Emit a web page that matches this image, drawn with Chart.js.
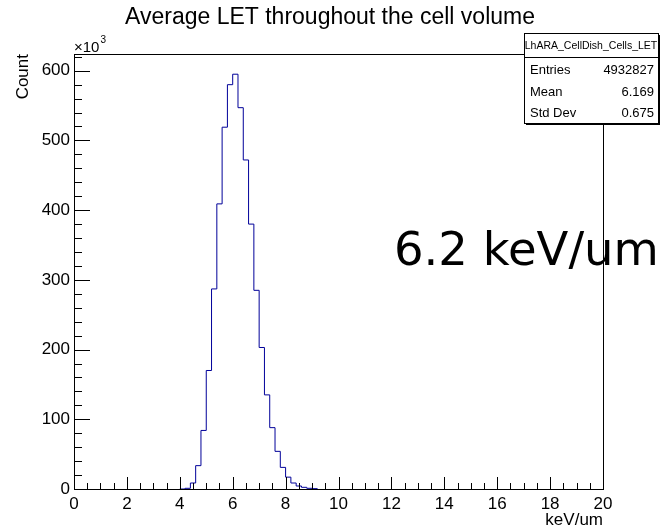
<!DOCTYPE html>
<html>
<head>
<meta charset="utf-8">
<script src="https://cdn.jsdelivr.net/npm/chart.js@4.4.0/dist/chart.umd.min.js"></script>
<style>
  body { margin: 0; background: #fff; }
  #wrap { width: 661px; height: 531px; }
</style>
</head>
<body>
<div id="wrap"><canvas id="letChart"></canvas></div>
<script>
// histogram bins (keV/um), width 0.2; last edge closes the last bin
var binEdges = [4.0, 4.2, 4.4, 4.6, 4.8, 5.0, 5.2, 5.4, 5.6, 5.8, 6.0, 6.2, 6.4,
  6.6, 6.8, 7.0, 7.2, 7.4, 7.6, 7.8, 8.0, 8.2, 8.4, 8.6, 8.8, 9.0, 9.2];
// counts per bin, in thousands (axis is x10^3)
var counts = [0, 1, 8.6, 33.5, 84, 170, 287, 409, 519, 580, 595, 547, 472,
  380, 285, 203, 135, 88, 54, 31, 17, 8.6, 4.3, 2.4, 1, 0.5];

var xTicks = [0, 2, 4, 6, 8, 10, 12, 14, 16, 18, 20];
var yTicks = [0, 100, 200, 300, 400, 500, 600];

var histName = "LhARA_CellDish_Cells_LET";
var statLabels = ["Entries", "Mean", "Std Dev"];
var statValues = ["4932827", "6.169", "0.675"];

var FONT = '"Liberation Sans", Arial, sans-serif';

var histPoints = [];
for (var i = 0; i < counts.length; i++) {
  histPoints.push({ x: binEdges[i], y: counts[i] });
}
histPoints.push({ x: binEdges[binEdges.length - 1], y: 0 });

var rootStyle = {
  id: "rootStyle",
  afterDraw: function (chart) {
    var ctx = chart.ctx;
    var a = chart.chartArea;
    var xs = chart.scales.x;
    var ys = chart.scales.y;
    ctx.save();
    ctx.strokeStyle = "#000";
    ctx.fillStyle = "#000";
    ctx.lineWidth = 1;

    // frame
    ctx.strokeRect(a.left + 0.5, a.top + 0.5, a.right - a.left, a.bottom - a.top);

    // inward ticks, x
    ctx.beginPath();
    for (var v = xs.min; v <= xs.max + 1e-9; v += 0.5) {
      var px = Math.round(xs.getPixelForValue(v)) + 0.5;
      var len = v % 2 === 0 ? 12 : 6;
      ctx.moveTo(px, a.bottom);
      ctx.lineTo(px, a.bottom - len);
    }
    // inward ticks, y
    for (var w = 0; w <= ys.max; w += 20) {
      var py = Math.round(ys.getPixelForValue(w)) + 0.5;
      var l2 = w % 100 === 0 ? 16 : 8;
      ctx.moveTo(a.left, py);
      ctx.lineTo(a.left + l2, py);
    }
    ctx.stroke();

    // title
    ctx.font = "23px " + FONT;
    ctx.textAlign = "center";
    ctx.fillText("Average LET throughout the cell volume", 330, 24);

    // exponent
    ctx.textAlign = "left";
    ctx.font = "15px " + FONT;
    ctx.fillText("\u00d710", a.left, 52);
    var ew = ctx.measureText("\u00d710").width;
    ctx.font = "10px " + FONT;
    ctx.fillText("3", a.left + ew + 1, 43);

    // axis titles
    ctx.font = "17px " + FONT;
    ctx.textAlign = "right";
    ctx.fillText("keV/um", a.right, 525);
    ctx.save();
    ctx.translate(28, a.top);
    ctx.rotate(-Math.PI / 2);
    ctx.fillText("Count", 0, 0);
    ctx.restore();

    // annotation
    ctx.textAlign = "left";
    ctx.font = '46.5px "DejaVu Sans", sans-serif';
    ctx.fillText("6.2 keV/um", 394, 265);

    // stats box
    var bx = 524, by = 33, bw = 134, bh = 90;
    ctx.fillRect(bx + 2, by + 2, bw, bh);
    ctx.fillStyle = "#fff";
    ctx.fillRect(bx, by, bw, bh);
    ctx.fillStyle = "#000";
    ctx.strokeRect(bx + 0.5, by + 0.5, bw, bh);
    ctx.beginPath();
    ctx.moveTo(bx, 57.5);
    ctx.lineTo(bx + bw, 57.5);
    ctx.stroke();
    ctx.font = "10.5px " + FONT;
    ctx.textAlign = "center";
    ctx.fillText(histName, bx + bw / 2, 49);
    ctx.font = "13px " + FONT;
    var rowY = [74, 96, 117];
    for (var k = 0; k < statLabels.length; k++) {
      ctx.textAlign = "left";
      ctx.fillText(statLabels[k], bx + 6, rowY[k]);
      ctx.textAlign = "right";
      ctx.fillText(statValues[k], bx + bw - 4, rowY[k]);
    }
    ctx.restore();
  }
};

var ctxLet = document.getElementById("letChart").getContext("2d");
var letChart = new Chart(ctxLet, {
  type: "line",
  data: {
    datasets: [
      {
        data: histPoints,
        borderColor: "#000099",
        borderWidth: 1,
        pointRadius: 0,
        stepped: true,
        fill: false,
      },
    ],
  },
  options: {
    responsive: true,
    maintainAspectRatio: false,
    animation: false,
    layout: { padding: { left: 0, top: 54, right: 58, bottom: 0 } },
    plugins: { legend: { display: false }, tooltip: { enabled: false } },
    scales: {
      x: {
        type: "linear",
        min: 0,
        max: 20,
        afterBuildTicks: function (s) {
          s.ticks = xTicks.map(function (v) { return { value: v }; });
        },
        afterFit: function (s) { s.height = 42; },
        grid: { display: false, drawTicks: false },
        border: { display: false },
        ticks: { padding: 5, color: "#000", font: { family: FONT, size: 17 }, maxRotation: 0 },
      },
      y: {
        type: "linear",
        min: 0,
        max: 624,
        afterBuildTicks: function (s) {
          s.ticks = yTicks.map(function (v) { return { value: v }; });
        },
        afterFit: function (s) { s.width = 74; },
        grid: { display: false, drawTicks: false },
        border: { display: false },
        ticks: { padding: 4, color: "#000", font: { family: FONT, size: 17 } },
      },
    },
  },
  plugins: [rootStyle],
});
</script>
</body>
</html>
